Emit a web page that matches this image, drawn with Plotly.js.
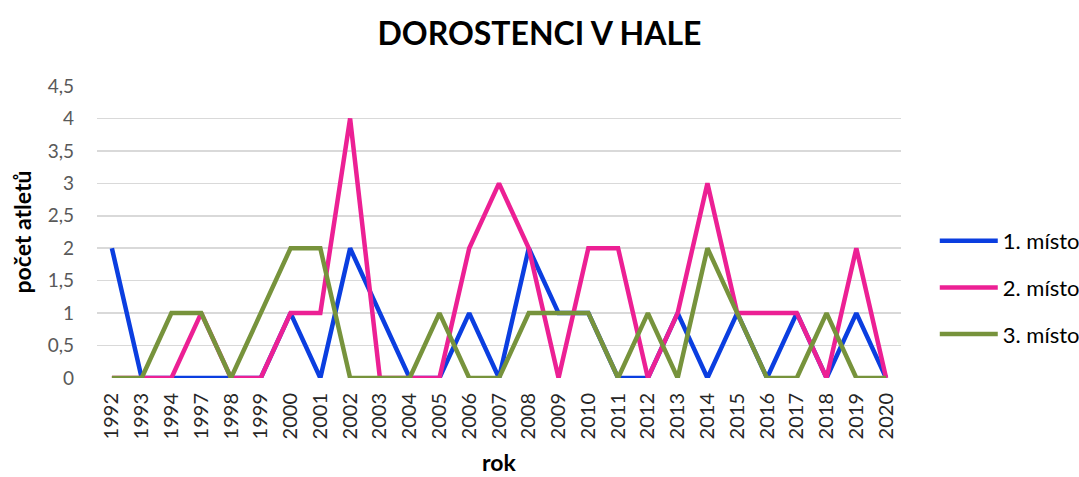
<!DOCTYPE html>
<html><head><meta charset="utf-8">
<script src="https://cdn.plot.ly/plotly-3.0.1.min.js"></script>
<style>html,body{margin:0;padding:0;background:#fff}#c{width:1079px;height:477px}</style>
</head><body><div id="c"></div>
<script>
const years = ["1992","1993","1994","1997","1998","1999","2000","2001","2002","2003","2004","2005","2006","2007","2008","2009","2010","2011","2012","2013","2014","2015","2016","2017","2018","2019","2020"];
const misto1 = [2,0,0,0,0,0,1,0,2,1,0,0,1,0,2,1,1,0,0,1,0,1,0,1,0,1,0];
const misto2 = [0,0,0,1,0,0,1,1,4,0,0,0,2,3,2,0,2,2,0,1,3,1,1,1,0,2,0];
const misto3 = [0,0,1,1,0,1,2,2,0,0,0,1,0,0,1,1,1,0,1,0,2,1,0,0,1,0,0];
const yTickVals = [0,0.5,1,1.5,2,2.5,3,3.5,4,4.5];
const yTickText = ["0","0,5","1","1,5","2","2,5","3","3,5","4","4,5"];
const names = ["1. místo","2. místo","3. místo"];
const colors = ["#0B3EE0","#EC2094","#77933C"];
const series = [misto1, misto2, misto3];
const font = "Lato, 'Open Sans', sans-serif";
const traces = series.map((s,i)=>({
  x: years, y: s, type: "scatter", mode: "lines", name: names[i],
  legendgroup: "g"+i,
  line: {color: colors[i], width: 4.5}
}));
const layout = {
  width: 1079, height: 477,
  margin: {l: 97, r: 178, t: 86, b: 99, autoexpand: false},
  paper_bgcolor: "#fff", plot_bgcolor: "#fff",
  font: {family: font, size: 17, color: "#000"},
  title: {text: "<b>DOROSTENCI V HALE</b>", font: {family: font, size: 32, color: "#000"}, x: 0.5, xanchor: "center", y: 0.93, yanchor: "middle"},
  xaxis: {type: "category", tickangle: -90, showgrid: false, zeroline: false, showline: false,
    ticks: "", tickfont: {size: 20, color: "#262626"}, ticklabelstandoff: 10, range: [-0.5, years.length - 0.5],
    title: {text: "<b>rok</b>", font: {size: 23}, standoff: 16}},
  yaxis: {range: [0, 4.5], tickvals: yTickVals, ticktext: yTickText, showgrid: true,
    gridcolor: "#D9D9D9", gridwidth: 1.5, zeroline: false, showline: false, ticks: "",
    tickfont: {size: 19, color: "#595959"}, ticklabelstandoff: 22,
    title: {text: "<b>počet atletů</b>", font: {size: 23}, standoff: 9}},
  legend: {x: 1.042, xanchor: "left", y: 0.31, yanchor: "middle", font: {size: 22}, tracegroupgap: 15, itemwidth: 58, bgcolor: "rgba(0,0,0,0)"},
  showlegend: true
};
Plotly.newPlot("c", traces, layout, {displayModeBar: false, staticPlot: true});
</script></body></html>
